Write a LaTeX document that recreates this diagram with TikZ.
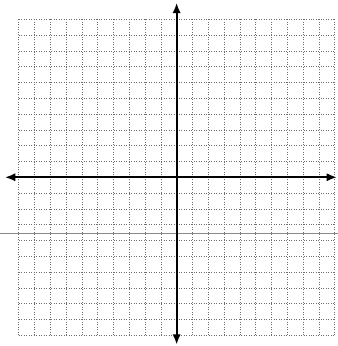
\documentclass[tikz,border=0pt]{standalone}
\usetikzlibrary{arrows.meta}
\definecolor{gridink}{HTML}{6E6E6E}
\definecolor{scanline}{HTML}{8A8A8A}
\tikzset{
  gridline/.style={gridink,line width=.45pt,dash pattern=on .7pt off 1.1pt},
  axisline/.style={black,line width=1.5pt,{Latex[length=7.5pt,width=6pt]}-{Latex[length=7.5pt,width=6pt]}}
}
\begin{document}
\begin{tikzpicture}[x=0.4cm,y=0.4cm]
\useasboundingbox (-11.18,-10.68) rectangle (10.21,11.22);
% dotted grid
\foreach \k in {-10,...,10} {
  \draw[gridline] (\k,-10) -- (\k,10);
  \draw[gridline] (-10,\k) -- (10,\k);
}
% scanner streak
\draw[scanline,line width=.6pt] (-11.18,-3.54) -- (10.21,-3.54);
% axes
\coordinate (xlo) at (-10.87,0);
\coordinate (xhi) at (10.15,0);
\coordinate (ylo) at (0,-10.6);
\coordinate (yhi) at (0,11.05);
\draw[axisline] (xlo) -- (xhi);
\draw[axisline] (ylo) -- (yhi);
\end{tikzpicture}
\end{document}
